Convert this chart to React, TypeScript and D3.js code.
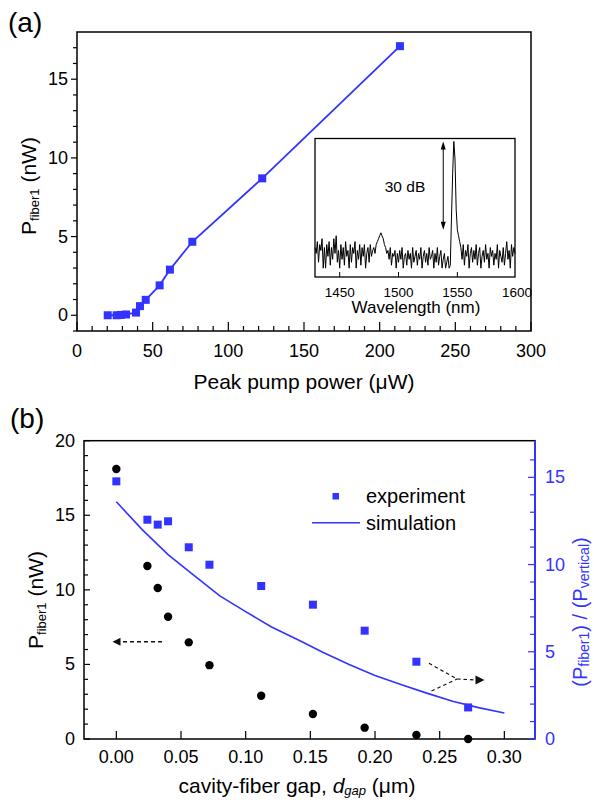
import React from 'react';
import * as d3 from 'd3';

// ---------- Panel (a) data ----------
const pumpPower = [20.3, 26.2, 28.9, 32.4, 39, 41.6, 45.4, 54.6, 61.4, 76.2, 122.4, 213.4];
const fiberPowerA = [0, 0, 0.02, 0.05, 0.17, 0.58, 0.98, 1.9, 2.9, 4.67, 8.7, 17.1];
const xTicksA = [0, 50, 100, 150, 200, 250, 300];
const yTicksA = [0, 5, 10, 15];

// ---------- Inset spectrum (1429..1599 nm, 1 nm step) ----------
const wlStart = 1429;
const spectrumDb = [
  -70, -72, -68, -75, -69, -71, -67, -77, -70, -77,
  -69, -73, -68, -76, -70, -74, -67, -72, -66, -75,
  -71, -77, -69, -74, -70, -76, -68, -73, -71, -77,
  -69, -75, -70, -72, -68, -77, -71, -74, -69, -76,
  -70, -73, -69, -77, -72, -70, -75, -69, -73, -71,
  -70, -72, -69, -68, -67, -66, -65, -66, -67, -69,
  -70, -72, -71, -74, -70, -76, -72, -73, -71, -77,
  -72, -75, -71, -74, -70, -77, -73, -72, -76, -71,
  -74, -72, -77, -70, -75, -73, -71, -76, -72, -74,
  -70, -77, -73, -71, -75, -72, -76, -70, -74, -73,
  -71, -77, -72, -75, -70, -76, -73, -71, -77, -74,
  -72, -77, -75, -73, -77, -76, -60, -45, -34, -40,
  -57, -64, -66, -68, -70, -74, -69, -76, -71, -73,
  -69, -77, -72, -70, -75, -71, -74, -69, -76, -72,
  -70, -77, -73, -71, -75, -69, -74, -72, -77, -70,
  -73, -71, -76, -72, -74, -69, -77, -71, -73, -75,
  -70, -76, -72, -68, -74, -71, -77, -69, -73, -70,
  -72,
];
const insetTicks = [1450, 1500, 1550, 1600];

// ---------- Panel (b) data ----------
const gap = [0, 0.024, 0.032, 0.040, 0.056, 0.072, 0.112, 0.152, 0.192, 0.232, 0.272];
const pFiber = [18.1, 11.6, 10.12, 8.2, 6.48, 4.95, 2.9, 1.68, 0.76, 0.27, 0.0];
const ratio = [14.77, 12.57, 12.29, 12.48, 10.99, 9.99, 8.77, 7.7, 6.21, 4.43, 1.81];
const simGap = [0, 0.02, 0.04, 0.06, 0.08, 0.1, 0.12, 0.14, 0.16, 0.18, 0.2, 0.22, 0.24, 0.26, 0.28, 0.3];
const simRatio = [13.6, 12.0, 10.57, 9.38, 8.2, 7.3, 6.42, 5.7, 4.96, 4.27, 3.64, 3.12, 2.63, 2.16, 1.8, 1.49];
const xTicksB = [0, 0.05, 0.1, 0.15, 0.2, 0.25, 0.3];
const yTicksB = [0, 5, 10, 15, 20];
const yTicksR = [0, 5, 10, 15];

const BLUE = '#3333ff';
const FONT = '"Liberation Sans", Arial, Helvetica, sans-serif';

export default function App() {
  // Panel (a) scales
  const xA = d3.scaleLinear().domain([0, 300]).range([77, 531]);
  const yA = d3.scaleLinear().domain([-1, 18]).range([331, 32]);
  const lineA = d3.line<number>().x((_, i) => xA(pumpPower[i])).y((d) => yA(d));

  // Inset scales
  const xI = d3.scaleLinear().domain([1429, 1599]).range([315, 515]);
  const yI = d3.scaleLinear().domain([-80, -33]).range([277, 138.5]);
  const lineI = d3.line<number>().x((_, i) => xI(wlStart + i)).y((d) => yI(d));

  // Panel (b) scales
  const xB = d3.scaleLinear().domain([-0.025, 0.3237]).range([84, 535]);
  const yB = d3.scaleLinear().domain([0, 20]).range([739, 440.7]);
  const yR = d3.scaleLinear().domain([0, 17.1]).range([739, 440.7]);
  const lineSim = d3.line<number>().x((_, i) => xB(simGap[i])).y((d) => yR(d));

  const minorA_x = d3.range(0, 301, 10);
  const minorA_y = d3.range(-1, 18, 1);
  const minorB_y = d3.range(0, 21, 1);
  const minorR = d3.range(0, 17, 1);

  return (
    <svg width={594} height={806} style={{ position: 'absolute', left: 0, top: 0, background: '#fff' }} fontFamily={FONT}>
      <rect x={0} y={0} width={594} height={806} fill="#fff" />
      {/* ================= Panel (a) ================= */}
      <text x={8} y={32} fontSize={28}>(a)</text>
      <rect x={77} y={32} width={454} height={299} fill="none" stroke="#000" strokeWidth={1.5} />
      {minorA_x.map((v) => (
        <line key={'ax' + v} x1={xA(v)} x2={xA(v)} y1={331} y2={331 - (v % 50 === 0 ? 9 : 5)} stroke="#000" strokeWidth={1.2} />
      ))}
      {minorA_y.map((v) => (
        <line key={'ay' + v} x1={77} x2={77 - (v % 5 === 0 ? 6 : 4)} y1={yA(v)} y2={yA(v)} stroke="#000" strokeWidth={1.2} />
      ))}
      {xTicksA.map((v) => (
        <text key={'axl' + v} x={xA(v)} y={357} fontSize={18} textAnchor="middle">{v}</text>
      ))}
      {yTicksA.map((v) => (
        <text key={'ayl' + v} x={68} y={yA(v)} fontSize={18} textAnchor="end" dominantBaseline="central">{v}</text>
      ))}
      <text x={304} y={389} fontSize={21} textAnchor="middle">Peak pump power (μW)</text>
      <text transform="translate(36,186) rotate(-90)" fontSize={21} textAnchor="middle">
        P<tspan fontSize={13} dy={3}>fiber1</tspan><tspan dy={-3}> (nW)</tspan>
      </text>
      <path d={lineA(fiberPowerA) || ''} fill="none" stroke={BLUE} strokeWidth={1.8} />
      {fiberPowerA.map((v, i) => (
        <rect key={'sa' + i} x={xA(pumpPower[i]) - 4} y={yA(v) - 4} width={8} height={8} fill={BLUE} />
      ))}

      {/* ---------- Inset ---------- */}
      <rect x={315} y={138.5} width={200} height={138.5} fill="#fff" stroke="#000" strokeWidth={1.3} />
      <path d={lineI(spectrumDb) || ''} fill="none" stroke="#000" strokeWidth={1} />
      {insetTicks.filter((v) => v < 1599).map((v) => (
        <line key={'it' + v} x1={xI(v)} x2={xI(v)} y1={277} y2={272} stroke="#000" strokeWidth={1} />
      ))}
      {insetTicks.map((v) => (
        <text key={'itl' + v} x={v === 1600 ? 517 : xI(v)} y={296.5} fontSize={13.5} textAnchor="middle">{v}</text>
      ))}
      <text x={416} y={313} fontSize={17} textAnchor="middle">Wavelength (nm)</text>
      <text x={405} y={191.5} fontSize={15.5} textAnchor="middle">30 dB</text>
      <line x1={xI(1538)} x2={xI(1538)} y1={yI(-34) + 6} y2={yI(-64) - 6} stroke="#000" strokeWidth={1} />
      <path d={`M${xI(1538)},${yI(-34)} l-2.5,8 l5,0 z`} fill="#000" />
      <path d={`M${xI(1538)},${yI(-64)} l-2.5,-8 l5,0 z`} fill="#000" />

      {/* ================= Panel (b) ================= */}
      <text x={10} y={428} fontSize={28}>(b)</text>
      <rect x={84} y={440.7} width={451} height={298.3} fill="none" stroke="#000" strokeWidth={1.5} />
      <line x1={535} x2={535} y1={440.7} y2={739} stroke={BLUE} strokeWidth={2} />
      {minorB_y.map((v) => (
        <line key={'by' + v} x1={84} x2={84 + (v % 5 === 0 ? 6 : 4)} y1={yB(v)} y2={yB(v)} stroke="#000" strokeWidth={1.2} />
      ))}
      {xTicksB.map((v) => (
        <line key={'bx' + v} x1={xB(v)} x2={xB(v)} y1={739} y2={731} stroke="#000" strokeWidth={1.2} />
      ))}
      {minorR.map((v) => (
        <line key={'br' + v} x1={535} x2={535 - (v % 5 === 0 ? 7 : 5)} y1={yR(v)} y2={yR(v)} stroke={BLUE} strokeWidth={1.2} />
      ))}
      {yTicksB.map((v) => (
        <text key={'byl' + v} x={75} y={yB(v)} fontSize={18} textAnchor="end" dominantBaseline="central">{v}</text>
      ))}
      {xTicksB.map((v) => (
        <text key={'bxl' + v} x={xB(v)} y={763} fontSize={18} textAnchor="middle">{v.toFixed(2)}</text>
      ))}
      {yTicksR.map((v) => (
        <text key={'brl' + v} x={545} y={yR(v)} fontSize={18} fill={BLUE} dominantBaseline="central">{v}</text>
      ))}
      <text x={297} y={793} fontSize={21} textAnchor="middle">
        cavity-fiber gap, <tspan fontStyle="italic">d</tspan><tspan fontStyle="italic" fontSize={13} dy={2}>gap</tspan><tspan dy={-2}> (μm)</tspan>
      </text>
      <text transform="translate(43,600) rotate(-90)" fontSize={21} textAnchor="middle">
        P<tspan fontSize={13} dy={3}>fiber1</tspan><tspan dy={-3}> (nW)</tspan>
      </text>
      <text transform="translate(587,612) rotate(-90)" fontSize={20} textAnchor="middle" fill={BLUE}>
        (P<tspan fontSize={14} dy={1.5}>fiber1</tspan><tspan dy={-1.5}>) / (P</tspan><tspan fontSize={14} dy={1.5}>vertical</tspan><tspan dy={-1.5}>)</tspan>
      </text>

      <path d={lineSim(simRatio) || ''} fill="none" stroke={BLUE} strokeWidth={1.6} />
      {pFiber.map((v, i) => (
        <circle key={'c' + i} cx={xB(gap[i])} cy={yB(v)} r={4.2} fill="#000" />
      ))}
      {ratio.map((v, i) => (
        <rect key={'r' + i} x={xB(gap[i]) - 4} y={yR(v) - 4} width={8} height={8} fill={BLUE} />
      ))}

      {/* legend */}
      <rect x={332.5} y={493} width={6.5} height={6.5} fill={BLUE} />
      <text x={366} y={503} fontSize={20}>experiment</text>
      <line x1={312} x2={360} y1={522.7} y2={522.7} stroke={BLUE} strokeWidth={1.6} />
      <text x={366} y={529.5} fontSize={20}>simulation</text>

      {/* dashed arrows */}
      <line x1={162} x2={119} y1={641.7} y2={641.7} stroke="#111" strokeWidth={1.4} strokeDasharray="4,3" />
      <path d="M112.5,641.7 l8,-4 l0,8 z" fill="#111" />
      <line x1={429} y1={663.3} x2={457} y2={679} stroke="#111" strokeWidth={1.2} strokeDasharray="3.5,3" />
      <line x1={431.5} y1={691} x2={457} y2={679} stroke="#111" strokeWidth={1.2} strokeDasharray="3.5,3" />
      <line x1={457} y1={679} x2={476} y2={680} stroke="#111" strokeWidth={1.2} strokeDasharray="3.5,3" />
      <path d="M484.5,680 l-9,-4.5 l0,9 z" fill="#111" />
    </svg>
  );
}
